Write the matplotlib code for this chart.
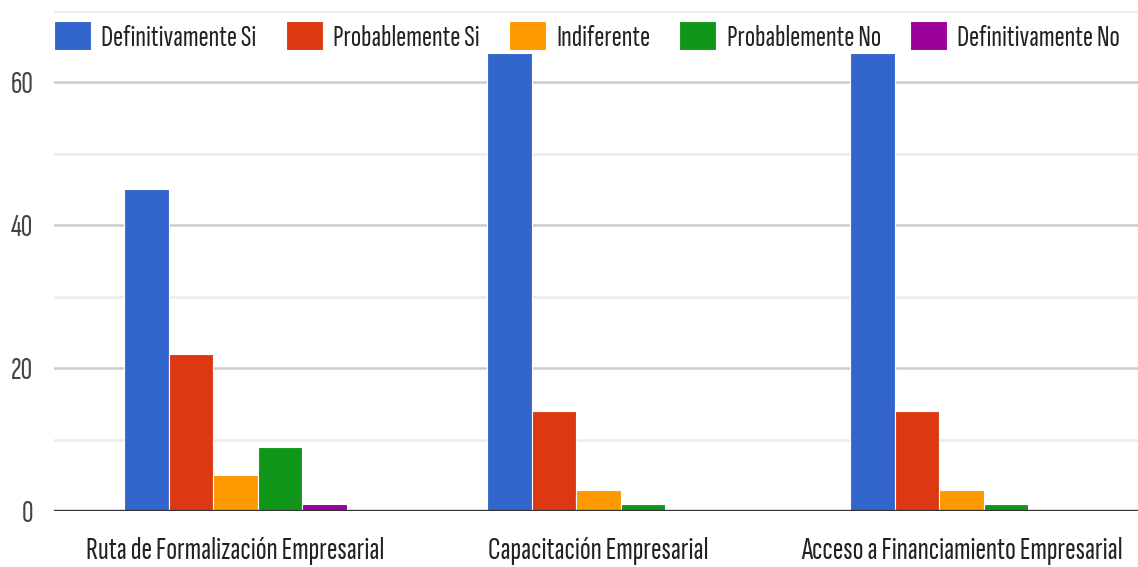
import matplotlib
matplotlib.use("Agg")
import matplotlib.pyplot as plt
import numpy as np

plt.rcParams['font.family'] = ['Sofia Sans Extra Condensed', 'Roboto Condensed', 'DejaVu Sans']

categories = ['Ruta de Formalización Empresarial', 'Capacitación Empresarial',
              'Acceso a Financiamiento Empresarial']
series = ['Definitivamente Si', 'Probablemente Si', 'Indiferente',
          'Probablemente No', 'Definitivamente No']
values = {
    'Definitivamente Si': [45, 64, 64],
    'Probablemente Si': [22, 14, 14],
    'Indiferente': [5, 3, 3],
    'Probablemente No': [9, 1, 1],
    'Definitivamente No': [1, 0, 0],
}
colors = ['#3366cc', '#dc3912', '#ff9900', '#109618', '#990099']

fig = plt.figure(figsize=(11.38, 5.67), dpi=100)
ax = fig.add_axes([54 / 1138, 1 - 511 / 567, 1089 / 1138, 500.5 / 567])

x = np.arange(len(categories)) + 0.5
w = 0.123
for i, (name, col) in enumerate(zip(series, colors)):
    ax.bar(x + (i - 2) * w, values[name], width=w, color=col,
           edgecolor='white', linewidth=0.8, label=name, zorder=3)

ax.set_xlim(0, 3)
ax.set_ylim(0, 70)
ax.set_yticks([0, 20, 40, 60])
ax.set_yticks([10, 30, 50, 70], minor=True)
ax.grid(axis='y', which='major', color='#cccccc', linewidth=1.8, zorder=0)
ax.grid(axis='y', which='minor', color='#ebebeb', linewidth=1.8, zorder=0)
ax.axhline(0, color='#333333', linewidth=2.4, zorder=4)

ax.set_xticks(x)
ax.set_xticklabels(categories)
ax.tick_params(axis='both', which='both', length=0, labelsize=23)
ax.tick_params(axis='x', pad=19, colors='#222222')
ax.tick_params(axis='y', pad=15, colors='#444444')
for s in ax.spines.values():
    s.set_visible(False)

ax.legend(loc='upper left', bbox_to_anchor=(54 / 1138, 1 - 21 / 567),
          bbox_transform=fig.transFigure, ncol=5, frameon=False, fontsize=22,
          handlelength=1.21, handleheight=1.08, handletextpad=0.34,
          columnspacing=0.95, borderaxespad=0, borderpad=0,
          labelcolor='#222222')

fig.savefig('out.png', dpi=100)
